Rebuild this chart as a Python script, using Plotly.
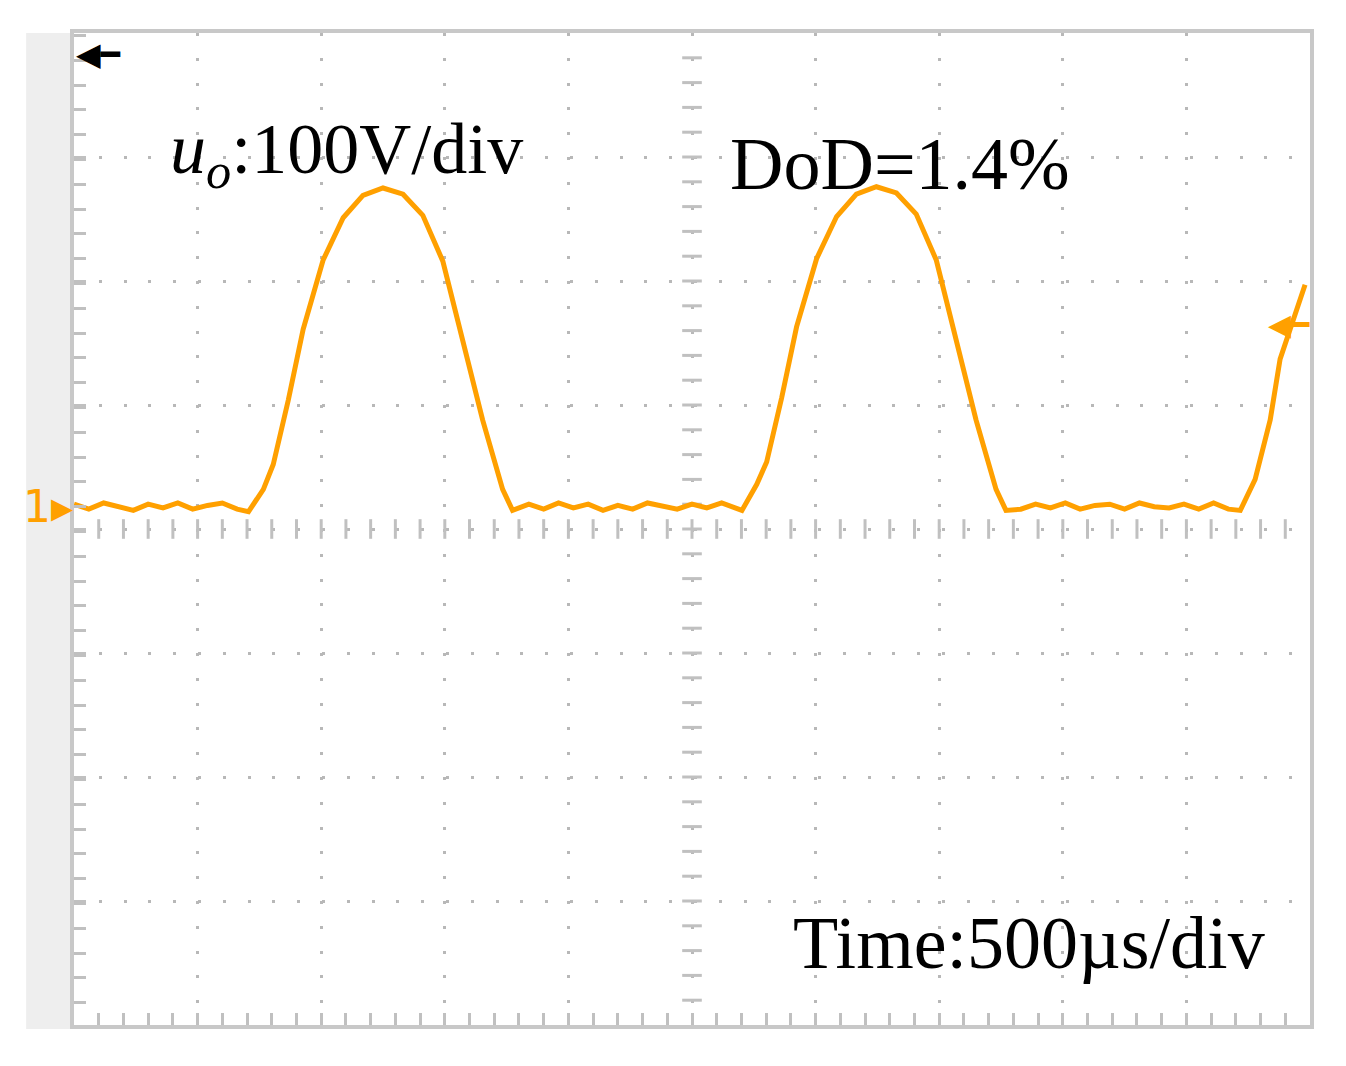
import plotly.graph_objects as go

# time (µs) and output voltage (V)
t_us = [0, 60, 120, 180, 240, 300, 360, 420, 480, 540, 600, 660, 706,
        766, 806, 867, 927, 1008, 1089, 1169, 1250, 1331, 1411, 1492, 1573, 1653, 1734, 1774,
        1840, 1900, 1960, 2020, 2080, 2140, 2200, 2260, 2320, 2380, 2440, 2500, 2560, 2620, 2680, 2702,
        2762, 2802, 2863, 2923, 3004, 3085, 3165, 3246, 3327, 3407, 3488, 3569, 3649, 3730, 3770,
        3830, 3890, 3950, 4010, 4070, 4130, 4190, 4250, 4310, 4370, 4430, 4490, 4550, 4610, 4670, 4718,
        4778, 4839, 4879, 4919, 4960, 4980]
u_o = [2, -2, 3, 0, -3, 2, -1, 3, -2, 1, 3, -2, -4,
       14, 34, 86, 143, 199, 233, 251, 257, 252, 235, 198, 135, 70, 14, -3,
       2, -2, 3, -1, 2, -3, 1, -2, 3, 0, -2, 2, -1, 3, -2, -3,
       18, 36, 88, 145, 200, 234, 252, 258, 253, 236, 199, 136, 70, 14, -3,
       -2, 2, -1, 3, -2, 1, 2, -2, 3, 0, -1, 2, -2, 3, -2, -3,
       22, 70, 119, 143, 167, 179]

CENTER = -18
X_MIN, X_MAX = 0, 5000
Y_MIN, Y_MAX = CENTER - 400, CENTER + 400

fig = go.Figure()

# center axis tick marks
fig.add_trace(go.Scatter(x=[X_MIN + 100 * i for i in range(1, 50)], y=[CENTER] * 49, mode="markers",
                         marker=dict(symbol="line-ns", size=14, line=dict(width=3, color="#c0c0c0")),
                         hoverinfo="skip", showlegend=False))
fig.add_trace(go.Scatter(x=[2500] * 39, y=[Y_MIN + 20 * i for i in range(1, 40)], mode="markers",
                         marker=dict(symbol="line-ew", size=14, line=dict(width=3, color="#c0c0c0")),
                         hoverinfo="skip", showlegend=False))

fig.add_trace(go.Scatter(x=t_us, y=u_o, mode="lines", line=dict(color="#ffa000", width=5),
                         showlegend=False))

axis_common = dict(showgrid=True, gridcolor="#b8b8b8", gridwidth=3, griddash="3px,21.8px",
                   showline=True, linecolor="#c8c8c8", linewidth=4, mirror=True,
                   zeroline=False, showticklabels=False, ticks="inside", ticklen=12,
                   tickcolor="#c0c0c0", tickwidth=3)
fig.update_xaxes(range=[X_MIN, X_MAX], tick0=0, dtick=500,
                 minor=dict(dtick=100, ticks="inside", ticklen=12, tickcolor="#c0c0c0", tickwidth=3),
                 **axis_common)
fig.update_yaxes(range=[Y_MIN, Y_MAX], tick0=CENTER, dtick=100,
                 minor=dict(dtick=20, ticks="inside", ticklen=12, tickcolor="#c0c0c0", tickwidth=3),
                 **axis_common)

fig.add_shape(type="rect", xref="paper", yref="paper", x0=-0.0387, x1=-0.002, y0=-0.004, y1=1.0,
              fillcolor="#eeeeee", line=dict(width=0), layer="below")

serif = "Liberation Serif"
fig.add_annotation(xref="paper", yref="paper", x=0.076, y=0.878, xanchor="left", yanchor="middle",
                   text="<i>u</i><sub><i>o</i></sub>:100V/div", showarrow=False,
                   font=dict(family=serif, size=72, color="black"))
fig.add_annotation(xref="paper", yref="paper", x=0.529, y=0.868, xanchor="left", yanchor="middle",
                   text="DoD=1.4%", showarrow=False, font=dict(family=serif, size=74, color="black"))
fig.add_annotation(xref="paper", yref="paper", x=0.58, y=0.083, xanchor="left", yanchor="middle",
                   text="Time:500µs/div", showarrow=False, font=dict(family=serif, size=74, color="black"))

# channel markers
fig.add_annotation(xref="paper", yref="paper", x=0.0, y=0.979, xanchor="left", yanchor="middle",
                   text="<b>◀━</b>", showarrow=False, font=dict(family="DejaVu Sans", size=32, color="black"))
fig.add_annotation(xref="paper", yref="y", x=0.001, y=0, xanchor="right", yanchor="middle",
                   text="1▸", showarrow=False, font=dict(family="DejaVu Sans", size=44, color="#ffa000"))
fig.add_annotation(xref="paper", yref="paper", x=1.002, y=0.706, xanchor="right", yanchor="middle",
                   text="<b>◀━</b>", showarrow=False, font=dict(family="DejaVu Sans", size=30, color="#ffa000"))

fig.update_layout(width=1346, height=1066, paper_bgcolor="white", plot_bgcolor="white",
                  margin=dict(l=66, r=44, t=25, b=49))
fig.write_html("out.html")
